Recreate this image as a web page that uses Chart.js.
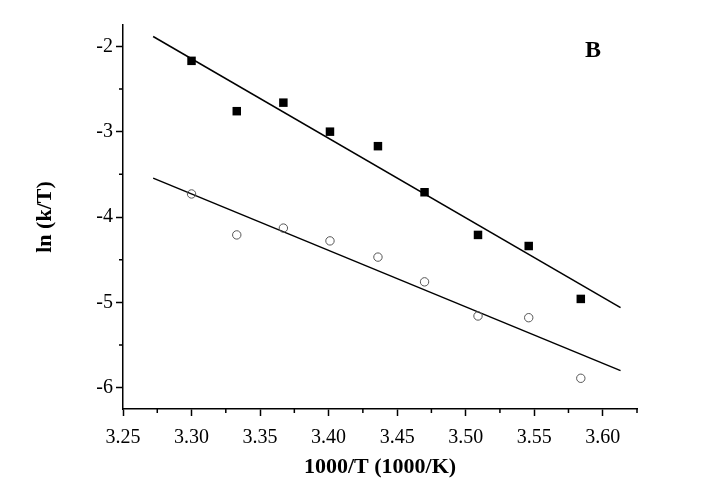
<!DOCTYPE html>
<html>
<head>
<meta charset="utf-8">
<script src="https://cdn.jsdelivr.net/npm/chart.js@4.4.1/dist/chart.umd.min.js"></script>
<style>
  html, body { margin: 0; padding: 0; background: #fff; }
  #wrap { width: 709px; height: 494px; }
</style>
</head>
<body>
<div id="wrap"><canvas id="chart" width="709" height="494"></canvas></div>
<script>
// 1000/T values (x axis)
const invT = [3.300, 3.333, 3.367, 3.401, 3.436, 3.470, 3.509, 3.546, 3.584];
// ln(k/T), filled squares
const lnSquares = [-2.17, -2.76, -2.66, -3.00, -3.17, -3.71, -4.21, -4.34, -4.96];
// ln(k/T), open circles
const lnCircles = [-3.73, -4.21, -4.13, -4.28, -4.47, -4.76, -5.16, -5.18, -5.89];
// fitted lines, end points as drawn
const fitX = [3.272, 3.613];
const fitSquares = [-1.885, -5.062];
const fitCircles = [-3.545, -5.80];

const xTicks = [3.25, 3.30, 3.35, 3.40, 3.45, 3.50, 3.55, 3.60];
const yTicks = [-6, -5, -4, -3, -2];

const serif = '"Liberation Serif", "Times New Roman", serif';

const pts = (xs, ys) => xs.map((x, i) => ({ x: x, y: ys[i] }));

// minor ticks + panel letter
const extras = {
  id: 'extras',
  afterDraw(chart) {
    const ctx = chart.ctx;
    const xs = chart.scales.x, ys = chart.scales.y;
    ctx.save();
    ctx.strokeStyle = '#000';
    ctx.lineWidth = 1.5;
    ctx.beginPath();
    for (let v = 3.275; v <= 3.626; v += 0.05) {
      const px = xs.getPixelForValue(v);
      ctx.moveTo(px, xs.top);
      ctx.lineTo(px, xs.top + 4);
    }
    for (let v = -5.5; v <= -2.5; v += 1) {
      const py = ys.getPixelForValue(v);
      ctx.moveTo(ys.right, py);
      ctx.lineTo(ys.right - 4, py);
    }
    ctx.stroke();
    ctx.fillStyle = '#000';
    ctx.font = 'bold 24px ' + serif;
    ctx.textAlign = 'center';
    ctx.textBaseline = 'middle';
    ctx.fillText('B', 593, 51);
    ctx.restore();
  }
};

new Chart(document.getElementById('chart'), {
  type: 'scatter',
  data: {
    datasets: [
      {
        data: pts(invT, lnSquares),
        pointStyle: 'rect',
        pointRadius: 6,
        backgroundColor: '#000',
        borderColor: '#000',
        borderWidth: 0
      },
      {
        data: pts(invT, lnCircles),
        pointStyle: 'circle',
        pointRadius: 4.2,
        backgroundColor: 'rgba(255,255,255,0)',
        borderColor: '#555',
        borderWidth: 1
      },
      {
        data: pts(fitX, fitSquares),
        showLine: true,
        pointRadius: 0,
        borderColor: '#000',
        borderWidth: 1.5
      },
      {
        data: pts(fitX, fitCircles),
        showLine: true,
        pointRadius: 0,
        borderColor: '#000',
        borderWidth: 1.5
      }
    ]
  },
  options: {
    responsive: false,
    animation: false,
    layout: { padding: { top: 25, right: 72, left: 0, bottom: 0 } },
    plugins: { legend: { display: false }, tooltip: { enabled: false } },
    scales: {
      x: {
        type: 'linear',
        min: 3.25,
        max: 3.625,
        afterFit(s) { s.height = 85; },
        afterBuildTicks(s) { s.ticks = xTicks.map(v => ({ value: v })); },
        border: { color: '#000', width: 1.5 },
        grid: { display: true, drawOnChartArea: false, tickLength: 7, tickWidth: 1.5, tickColor: '#000' },
        ticks: {
          autoSkip: false,
          maxRotation: 0,
          padding: 10,
          color: '#000',
          font: { family: serif, size: 20 },
          callback: v => v.toFixed(2)
        },
        title: {
          display: true,
          text: '1000/T (1000/K)',
          color: '#000',
          font: { family: serif, size: 22, weight: 'bold' },
          padding: { top: 0, bottom: 13 }
        }
      },
      y: {
        type: 'linear',
        min: -6.25,
        max: -1.75,
        afterFit(s) { s.width = 123; },
        afterBuildTicks(s) { s.ticks = yTicks.map(v => ({ value: v })); },
        border: { color: '#000', width: 1.5 },
        grid: { display: true, drawOnChartArea: false, tickLength: 7, tickWidth: 1.5, tickColor: '#000' },
        ticks: {
          autoSkip: false,
          padding: 3,
          color: '#000',
          font: { family: serif, size: 20 },
          callback: v => String(v)
        },
        title: {
          display: true,
          text: 'ln (k/T)',
          color: '#000',
          font: { family: serif, size: 22, weight: 'bold' },
          padding: { top: 32, bottom: 0 }
        }
      }
    }
  },
  plugins: [extras]
});
</script>
</body>
</html>
